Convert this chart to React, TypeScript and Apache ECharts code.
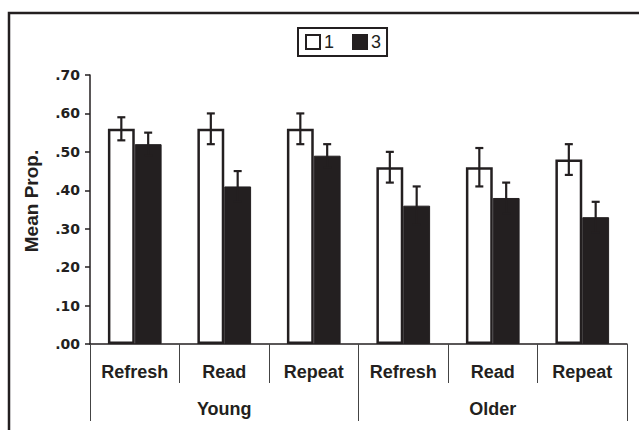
import React, { useEffect, useRef } from "react";
import * as echarts from "echarts";

const categories = ["Refresh", "Read", "Repeat", "Refresh", "Read", "Repeat"];
const groups = ["Young", "Older"];
const seriesNames = ["1", "3"];
const values1 = [0.56, 0.56, 0.56, 0.46, 0.46, 0.48];
const values3 = [0.52, 0.41, 0.49, 0.36, 0.38, 0.33];
const err1Low = [0.53, 0.52, 0.52, 0.42, 0.41, 0.44];
const err1High = [0.59, 0.6, 0.6, 0.5, 0.51, 0.52];
const err3Low = [0.49, 0.37, 0.46, 0.31, 0.34, 0.29];
const err3High = [0.55, 0.45, 0.52, 0.41, 0.42, 0.37];
const yTicks = [0, 0.1, 0.2, 0.3, 0.4, 0.5, 0.6, 0.7];
const yTitle = "Mean Prop.";

const DARK = "#231f20";
const BAR_FRAC = 0.3;
const FONT = "'Liberation Sans', Arial, sans-serif";

function errorSeries(name: string, lo: number[], hi: number[], sign: number) {
  return {
    type: "custom",
    name: name + "-err",
    xAxisIndex: 0,
    yAxisIndex: 0,
    z: 5,
    silent: true,
    encode: { x: 0, y: [1, 2] },
    data: lo.map((l, i) => [i, l, hi[i]]),
    renderItem: (params: any, api: any) => {
      const idx = api.value(0);
      const top = api.coord([idx, api.value(2)]);
      const bot = api.coord([idx, api.value(1)]);
      const band = api.size([1, 0])[0];
      const x = top[0] + sign * band * BAR_FRAC / 2;
      const cap = 4;
      const st = { stroke: DARK, lineWidth: 2.2 };
      return {
        type: "group",
        children: [
          { type: "line", shape: { x1: x, y1: top[1], x2: x, y2: bot[1] }, style: st },
          { type: "line", shape: { x1: x - cap, y1: top[1], x2: x + cap, y2: top[1] }, style: st },
          { type: "line", shape: { x1: x - cap, y1: bot[1], x2: x + cap, y2: bot[1] }, style: st },
        ],
      };
    },
  };
}

export default function App() {
  const ref = useRef<HTMLDivElement>(null);
  useEffect(() => {
    if (!ref.current) return;
    const chart = echarts.init(ref.current, null, { renderer: "svg" });
    const keys = categories.map((c, i) => i + ":" + c);
    chart.setOption({
      animation: false,
      backgroundColor: "#fff",
      textStyle: { fontFamily: FONT, color: DARK },
      grid: { left: 90, right: 12, top: 75, bottom: 86, containLabel: false },
      graphic: [
        {
          type: "rect",
          shape: { x: 9, y: 13, width: 700, height: 500 },
          style: { fill: "none", stroke: DARK, lineWidth: 2.5 },
          silent: true,
        },
        {
          type: "text",
          x: 31,
          y: 201,
          rotation: Math.PI / 2,
          silent: true,
          style: {
            text: yTitle,
            fontSize: 19,
            fontWeight: "bold",
            fontFamily: FONT,
            fill: DARK,
            align: "center",
            verticalAlign: "middle",
          },
        },
      ],
      legend: {
        data: seriesNames,
        left: 298,
        top: 28,
        padding: [5, 6, 5, 7],
        itemGap: 18,
        itemWidth: 14,
        itemHeight: 14,
        icon: "rect",
        borderColor: DARK,
        borderWidth: 2,
        textStyle: { fontSize: 18, color: DARK, fontFamily: FONT, padding: [0, 0, 0, -1] },
      },
      xAxis: [
        {
          type: "category",
          data: keys,
          position: "bottom",
          axisLine: { show: true, lineStyle: { color: DARK, width: 1.5 } },
          axisTick: { show: true, interval: 0, length: 39, lineStyle: { color: "#444", width: 1 } },
          axisLabel: {
            interval: 0,
            formatter: (_v: string, i: number) => categories[i],
            fontSize: 18,
            fontWeight: "bold",
            color: DARK,
            fontFamily: FONT,
            margin: 19,
          },
        },
        {
          type: "category",
          data: groups,
          position: "bottom",
          axisLine: { show: false },
          axisTick: { show: true, interval: 0, length: 77, lineStyle: { color: "#444", width: 1 } },
          axisLabel: {
            interval: 0,
            fontSize: 18,
            fontWeight: "bold",
            color: DARK,
            fontFamily: FONT,
            margin: 56,
          },
        },
      ],
      yAxis: {
        type: "value",
        min: yTicks[0],
        max: yTicks[yTicks.length - 1],
        interval: 0.1,
        axisLine: { show: true, lineStyle: { color: DARK, width: 1.5 } },
        axisTick: { show: true, length: 5, lineStyle: { color: DARK, width: 1.5 } },
        splitLine: { show: false },
        axisLabel: {
          margin: 10,
          fontSize: 14,
          fontWeight: "bold",
          color: DARK,
          fontFamily: "'DejaVu Sans', sans-serif",
          formatter: (v: number) => v.toFixed(2).replace(/^0/, ""),
        },
      },
      series: [
        {
          type: "bar",
          name: seriesNames[0],
          data: values1,
          barWidth: BAR_FRAC * 100 + "%",
          barGap: "0%",
          itemStyle: { color: "#fff", borderColor: DARK, borderWidth: 2.5 },
          z: 2,
        },
        {
          type: "bar",
          name: seriesNames[1],
          data: values3,
          barWidth: BAR_FRAC * 100 + "%",
          barGap: "0%",
          itemStyle: { color: DARK, borderColor: DARK, borderWidth: 1 },
          z: 2,
        },
        errorSeries("1", err1Low, err1High, -1),
        errorSeries("3", err3Low, err3High, 1),
      ],
    });
    return () => chart.dispose();
  }, []);
  return (
    <div
      ref={ref}
      style={{ position: "absolute", left: 0, top: 0, width: 639, height: 430 }}
    />
  );
}
